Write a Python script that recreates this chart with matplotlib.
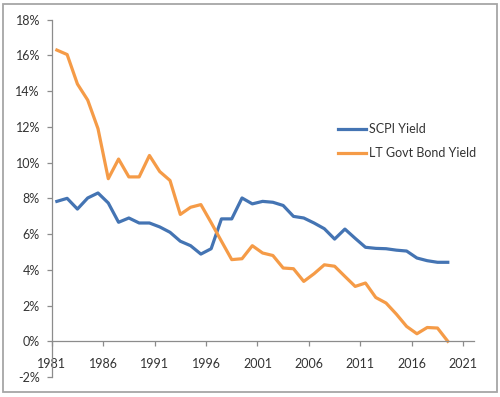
import matplotlib
matplotlib.use("Agg")
import matplotlib.pyplot as plt
from matplotlib.patches import Rectangle
from matplotlib.ticker import FuncFormatter

# yields in percent, one value per year 1981-2019
years = list(range(1981, 2020))
scpi_yield = [7.83, 8.0, 7.4, 8.02, 8.3, 7.74, 6.66, 6.9, 6.62, 6.62,
              6.4, 6.1, 5.6, 5.35, 4.88, 5.18, 6.85, 6.85, 8.02, 7.69,
              7.83, 7.78, 7.6, 6.99, 6.9, 6.62, 6.3, 5.72, 6.28, 5.76,
              5.26, 5.2, 5.18, 5.1, 5.05, 4.66, 4.51, 4.42, 4.42]
bond_yield = [16.3, 16.05, 14.4, 13.5, 11.9, 9.1, 10.2, 9.2, 9.2, 10.4,
              9.5, 9.0, 7.1, 7.5, 7.65, 6.64, 5.6, 4.57, 4.62, 5.35,
              4.94, 4.8, 4.1, 4.06, 3.35, 3.78, 4.28, 4.2, 3.63, 3.07,
              3.26, 2.45, 2.14, 1.52, 0.83, 0.42, 0.77, 0.74, 0.0]
x_ticks = list(range(1981, 2022, 5))
y_ticks = list(range(-2, 19, 2))

FONT = "Lato"
FSIZE = 9
TEXT = "#333333"
AXIS = "#8c8c8c"

fig = plt.figure(figsize=(5, 3.97), dpi=100)
ax = fig.add_axes([0.1034, 0.0504, 0.8436, 0.9])

# points sit at mid-year
xs = [y + 0.5 for y in years]
ax.plot(xs, scpi_yield, color="#4474B3", lw=2.3, label="SCPI Yield",
        solid_joinstyle="round")
ax.plot(xs, bond_yield, color="#F59B47", lw=2.3, label="LT Govt Bond Yield",
        solid_joinstyle="round")

ax.set_xlim(1981, 2022)
ax.set_ylim(-2, 18)
ax.set_xticks(x_ticks)
ax.set_yticks(y_ticks)
ax.yaxis.set_major_formatter(FuncFormatter(lambda v, p: "%d%%" % v))

for s in ["top", "right"]:
    ax.spines[s].set_visible(False)
ax.spines["bottom"].set_position(("data", 0))
for s in ["left", "bottom"]:
    ax.spines[s].set_color(AXIS)
    ax.spines[s].set_linewidth(0.9)

ax.tick_params(axis="both", direction="out", length=3.5, width=0.9,
               color=AXIS, labelcolor=TEXT, labelsize=FSIZE)
ax.tick_params(axis="y", pad=5)
ax.tick_params(axis="x", pad=8.5)
for lab in ax.get_xticklabels() + ax.get_yticklabels():
    lab.set_fontfamily(FONT)

fig.legend(loc="center left", bbox_to_anchor=(338 / 500, 1 - 141 / 397),
           bbox_transform=fig.transFigure, frameon=False,
           prop={"family": FONT, "size": FSIZE}, labelcolor=TEXT,
           handlelength=2.2, handletextpad=0.3, labelspacing=0.95,
           borderpad=0, borderaxespad=0)

# chart area border
fig.patches.append(Rectangle((3 / 500, 5 / 397), 494 / 500, 388 / 397,
                             transform=fig.transFigure, fill=False,
                             edgecolor="#a6a6a6", lw=1.3))

fig.savefig("out.png", dpi=100)
